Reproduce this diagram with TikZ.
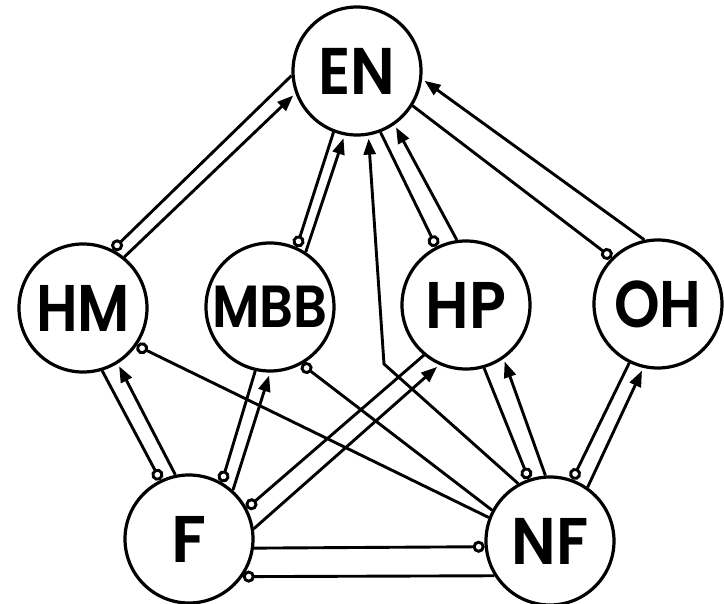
\documentclass[tikz,border=0pt]{standalone}
\usepackage{fontspec}
\setmainfont{Poppins}[BoldFont={* SemiBold}]
\usetikzlibrary{arrows.meta}
\begin{document}
\begin{tikzpicture}[x=1pt,y=-1pt,
  state/.style={circle,draw,fill=white,line width=3.2pt,minimum size=128pt,inner sep=0pt,
    font=\fontsize{66}{66}\selectfont\bfseries},
  link/.style={line width=2.9pt},
  tail/.style={{Circle[open,length=12pt,width=12pt]}-},
  tailend/.style={-{Circle[open,length=12pt,width=12pt]}},
  head/.style={-{Triangle[length=16pt,width=12pt]},shorten >=3pt},
]
\fill[white] (0,0) rectangle (724,604);
\useasboundingbox (0,0) rectangle (724,604);

% states
\node[state] (EN)  at (357,71)  {\scalebox{0.92}[1]{EN}};
\node[state] (HM)  at (83,308)  {\scalebox{0.88}[1]{HM}};
\node[state] (MBB) at (270,307) {\scalebox{0.8}[0.9]{MBB}};
\node[state] (HP)  at (466,305) {\scalebox{0.92}[1]{HP}};
\node[state] (OH)  at (658,304) {\scalebox{0.88}[1]{OH}};
\node[state] (F)   at (189,539) {F};
\node[state] (NF)  at (550,541) {\scalebox{0.92}[1]{NF}};

% links into EN
\draw[link,tail] (HM.63.8)  -- (EN.184.3);
\draw[link,head] (HM.51.3)  -- (EN.200.3);
\draw[link,tail] (MBB.66.4) -- (EN.249.4);
\draw[link,head] (MBB.57)   -- (EN.259);
\draw[link,tail] (HP.117)   -- (EN.291.2);
\draw[link,head] (HP.98)    -- (EN.305);
\draw[link,tail] (OH.135)   -- (EN.328.8);
\draw[link,head] (OH.102)   -- (EN.353.2);
\coordinate (bend) at (384,364);
\draw[link,head] (NF.119.6) -- (bend) -- (EN.280);

% links out of F
\draw[link,tail] (F.116.6) -- (HM.287.9);
\draw[link,head] (F.102.8) -- (HM.302.8);
\draw[link,tail] (F.60.5)  -- (MBB.257.6);
\draw[link,head] (F.48)    -- (MBB.270);
\draw[link,tail] (F.28)    -- (HP.230.3);
\draw[link,head] (F.9.5)   -- (HP.246);
\draw[link,tailend] (F.352.7) -- (NF.185.6);
\draw[link,tail]    (F.325.2) -- (NF.212.8);

% links out of NF
\draw[link,tail] (HM.325)   -- (NF.159.1);
\draw[link,tail] (MBB.299)  -- (NF.152.7);
\draw[link,tail] (NF.109.2) -- (HP.286.8);
\draw[link,head] (NF.94.3)  -- (HP.305.3);
\draw[link,tail] (NF.70.3)  -- (OH.244.5);
\draw[link,head] (NF.55.1)  -- (OH.257.7);
\end{tikzpicture}
\end{document}
